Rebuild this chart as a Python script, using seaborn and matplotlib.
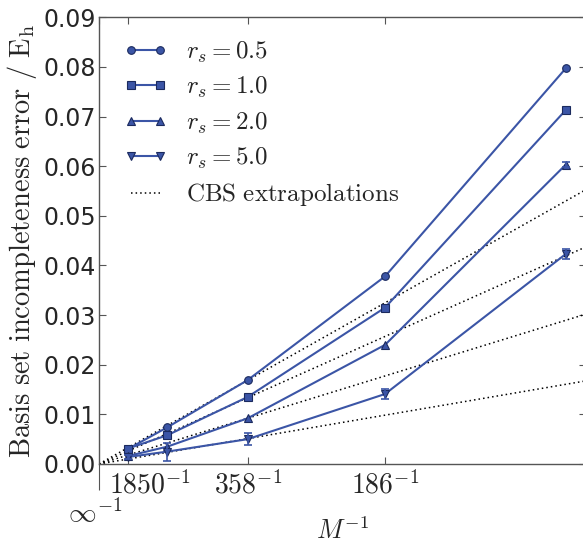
import numpy as np
import pandas as pd
import matplotlib
matplotlib.use("Agg")
import matplotlib.pyplot as plt
import matplotlib.lines as mlines
import matplotlib.transforms as mtransforms
import seaborn as sns

# Basis set sizes (number of plane waves) and the inverse-size axis
basis_M = [1850, 778, 358, 186, 114]
tick_M_labels = [r"$\infty^{-1}$", r"$1850^{-1}$", r"$358^{-1}$", r"$186^{-1}$"]
tick_M_values = [np.inf, 1850, 358, 186]

# Basis set incompleteness error (Hartree) for each density parameter r_s
rs_values = ["0.5", "1.0", "2.0", "5.0"]
err_rs05 = [0.0030, 0.0074, 0.0169, 0.0378, 0.0797]
err_rs10 = [0.0031, 0.0058, 0.0135, 0.0315, 0.0713]
err_rs20 = [0.0016, 0.0035, 0.0092, 0.0240, 0.0603]
err_rs50 = [0.0014, 0.0025, 0.0050, 0.0141, 0.0423]
# Stochastic error bars
sd_rs05 = [0.0, 0.0, 0.0, 0.0, 0.0]
sd_rs10 = [0.0, 0.0, 0.0, 0.0, 0.0]
sd_rs20 = [0.0, 0.0, 0.0, 0.0, 0.0005]
sd_rs50 = [0.0004, 0.0018, 0.0012, 0.0011, 0.0010]

# CBS extrapolations E(M) = E_CBS + a / M
cbs_intercept = [0.0, 0.0, 0.0, 0.0]
cbs_slope = [6.04, 4.78, 3.30, 1.83]

errors = [err_rs05, err_rs10, err_rs20, err_rs50]
sds = [sd_rs05, sd_rs10, sd_rs20, sd_rs50]
markers = ["o", "s", "^", "v"]

rows = []
for rs, ys, ss in zip(rs_values, errors, sds):
    for M, y, s in zip(basis_M, ys, ss):
        rows.append({"rs": rs, "invM": 1.0 / M, "error": y, "sd": s})
df = pd.DataFrame(rows)

sns.set_style("ticks")
plt.rcParams["font.family"] = ["DejaVu Sans"]
plt.rcParams["mathtext.fontset"] = "cm"

blue = "#3b55a6"
edge = "#1b2a5e"

fig = plt.figure(figsize=(5.83, 5.43), dpi=100)
ax = fig.add_axes([0.1698, 0.1455, 0.835, 0.8226])

x_max = 0.00915
for rs, mk in zip(rs_values, markers):
    sub = df[df["rs"] == rs]
    sns.lineplot(data=sub, x="invM", y="error", ax=ax, color=blue, lw=1.5,
                 marker=mk, markersize=5.5, markerfacecolor=blue,
                 markeredgecolor=edge, markeredgewidth=0.8,
                 label=rf"$r_s = {rs}$", zorder=3)
    has_err = sub["sd"] > 0
    if has_err.any():
        ax.errorbar(sub["invM"][has_err], sub["error"][has_err],
                    yerr=sub["sd"][has_err], fmt="none", ecolor=blue,
                    elinewidth=1.2, capsize=3, capthick=1.2, zorder=3)

xs = np.array([0.0, x_max])
for i, (b, a) in enumerate(zip(cbs_intercept, cbs_slope)):
    sns.lineplot(x=xs, y=b + a * xs, ax=ax, color="k", lw=1.1,
                 linestyle=(0, (1, 2)), zorder=2,
                 label=r"$\mathrm{CBS\ extrapolations}$" if i == 0 else None)

ax.set_xlim(0, x_max)
ax.set_ylim(0, 0.09)
ax.set_yticks(np.arange(0, 0.0901, 0.01))
ax.set_yticklabels([f"{v:.2f}" for v in np.arange(0, 0.0901, 0.01)], fontsize=17)
ax.set_xticks([1.0 / m for m in tick_M_values])
ax.set_xticklabels(tick_M_labels, fontsize=20)

ax.tick_params(direction="in", top=True, right=True, length=5, width=0.8,
               color="#555555")
ax.tick_params(axis="y", pad=2)
ax.tick_params(axis="x", pad=5)
for sp in ax.spines.values():
    sp.set_color("#555555")
    sp.set_linewidth(1.0)

# push the infinity label onto a second row, with a longer tick leading to it
ticks = ax.xaxis.get_major_ticks()
inf_tick = ticks[0]
inf_tick.label1.set_transform(inf_tick.label1.get_transform() +
                              mtransforms.ScaledTranslation(-0.04, -0.27, fig.dpi_scale_trans))
inf_tick.tick1line.set_marker(mlines.TICKDOWN)
inf_tick.tick1line.set_markersize(19)
# nudge the first finite label clear of the y tick labels
ticks[1].label1.set_transform(ticks[1].label1.get_transform() +
                              mtransforms.ScaledTranslation(0.22, 0.0, fig.dpi_scale_trans))

ax.set_xlabel(r"$M^{-1}$", fontsize=19, labelpad=-7)
ax.set_ylabel(r"$\mathrm{Basis\ set\ incompleteness\ error\ /\ E_h}$", fontsize=20.5, labelpad=3)

leg = ax.legend(loc="upper left", bbox_to_anchor=(0.014, 0.99), frameon=False,
                fontsize=18, numpoints=2, handlelength=1.75, handletextpad=0.75,
                labelspacing=0.41, borderaxespad=0.3)

fig.savefig("out.png", dpi=100)
